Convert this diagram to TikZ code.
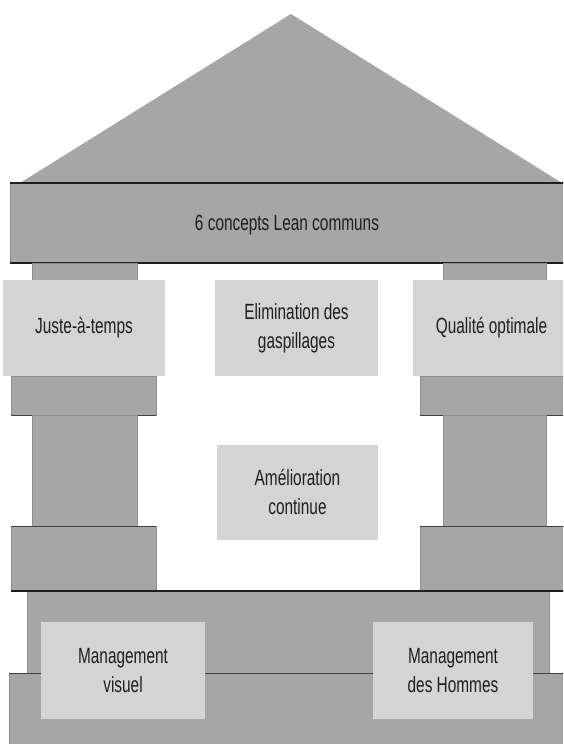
\documentclass[tikz,border=0pt]{standalone}
\usepackage{fontspec}
\setmainfont[FakeStretch=0.7]{Liberation Sans}
\definecolor{stone}{HTML}{A6A6A6}
\definecolor{stoneedge}{HTML}{8E8E8E}
\definecolor{panelgray}{HTML}{D4D4D4}
\definecolor{ink}{HTML}{1E1E1E}
\newcommand{\labelfont}{\fontsize{22}{29}\selectfont}
\begin{document}
\begin{tikzpicture}[x=1pt,y=-1pt,
  block/.style={fill=stone, draw=stoneedge, line width=0.6pt},
  panel/.style={fill=panelgray, draw=none, inner sep=0pt, text=ink,
                align=center, font=\labelfont},
  caption/.style={text=ink, inner sep=0pt, font=\labelfont},
  rule/.style={draw=ink, line width=1.4pt},
  thinrule/.style={draw=ink!85, line width=1pt}]
\useasboundingbox (0,0) rectangle (563,744);
\clip (0,0) rectangle (563,744);

% roof
\fill[stone] (20,183) -- (291,14) -- (562,183) -- cycle;

% entablature
\path[block] (10,183) rectangle (572,263);
\draw[rule] (10,183) -- (572,183);
\draw[rule] (10,263) -- (572,263);
\node[caption] (common) at (287,225) {6 concepts Lean communs};

% column capitals (stubs under the beam)
\path[block] (32,263) rectangle (137,280);
\path[block] (443,263) rectangle (546,280);

% blocks below the upper panels
\path[block] (11,376) rectangle (156,415);
\path[block] (420,376) rectangle (570,415);
\draw[thinrule] (11,415) -- (156,415);
\draw[thinrule] (420,415) -- (570,415);

% column shafts
\path[block] (32,415) rectangle (137,526);
\path[block] (443,415) rectangle (546,526);

% column bases
\path[block] (11,526) rectangle (156,591);
\path[block] (420,526) rectangle (570,591);
\draw[thinrule] (11,526) -- (156,526);
\draw[thinrule] (420,526) -- (570,526);

% steps
\path[block] (27,591) rectangle (549,673);
\path[block] (9,673) rectangle (580,750);
\draw[thinrule] (9,673) -- (580,673);
\draw[rule] (11,591) -- (570,591);

% upper panels
\node[panel, minimum width=162pt, minimum height=96pt] (jit) at (84,328) {Juste-à-temps};
\node[panel, minimum width=163pt, minimum height=96pt] (waste) at (296.5,328) {Elimination des\\gaspillages};
\node[panel, minimum width=157pt, minimum height=96pt] (quality) at (491.5,328) {Qualité optimale};

% central panel
\node[panel, minimum width=161pt, minimum height=95pt] (kaizen) at (297.5,492.5) {Amélioration\\continue};

% foundation panels
\node[panel, minimum width=164pt, minimum height=97pt] (visual) at (123,670.5) {Management\\visuel};
\node[panel, minimum width=160pt, minimum height=97pt] (people) at (453,670.5) {Management\\des Hommes};
\end{tikzpicture}
\end{document}
